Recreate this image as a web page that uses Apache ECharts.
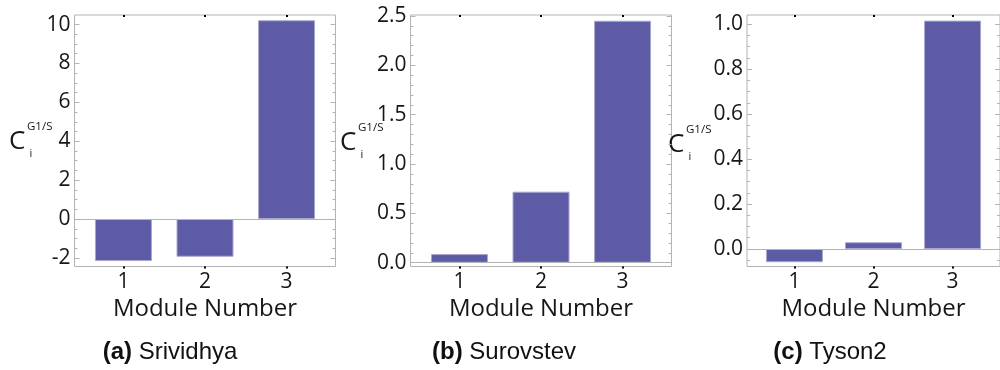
<!DOCTYPE html>
<html>
<head>
<meta charset="utf-8">
<script src="https://cdn.jsdelivr.net/npm/echarts@6/dist/echarts.min.js"></script>
<style>
  html, body { margin: 0; padding: 0; background: #ffffff; }
  #chart { width: 1000px; height: 370px; }
</style>
</head>
<body>
<div id="chart"></div>
<script>
// Module numbers on the x axis and their labels
const categories = [1, 2, 3];
const categoryLabels = ['1', '2', '3'];

// C_i^{G1/S} per module for each model
const valuesSrividhya = [-2.16, -1.94, 10.22];
const valuesSurovstev = [0.088, 0.72, 2.452];
const valuesTyson2 = [-0.059, 0.030, 1.016];

// Major y tick values of each panel
const ticksSrividhya = [-2, 0, 2, 4, 6, 8, 10];
const ticksSurovstev = [0.0, 0.5, 1.0, 1.5, 2.0, 2.5];
const ticksTyson2 = [0.0, 0.2, 0.4, 0.6, 0.8, 1.0];

// Panel captions: tag and model name
const captionTags = ['(a)', '(b)', '(c)'];
const captionNames = ['Srividhya', 'Surovstev', 'Tyson2'];

const xAxisTitle = 'Module Number';

// Per-panel layout: frame position, axis extents, minor tick subdivisions, label decimals
const panels = [
  { values: valuesSrividhya, ticks: ticksSrividhya, left: 74.5, yMin: -2.44, yMax: 10.49, minorDiv: 4, dec: 0,
    titleX: 9, titleY: 142, captionX: 170 },
  { values: valuesSurovstev, ticks: ticksSurovstev, left: 410.5, yMin: -0.038, yMax: 2.51, minorDiv: 5, dec: 1,
    titleX: 340, titleY: 143, captionX: 504 },
  { values: valuesTyson2, ticks: ticksTyson2, left: 747, yMin: -0.078, yMax: 1.041, minorDiv: 4, dec: 1,
    titleX: 668, titleY: 145, captionX: 830 }
];

const FRAME_TOP = 15;
const FRAME_BOTTOM = 266.5;
const FRAME_WIDTH = 261;
const FRAME_COLOR = '#b3b3b3';
const BAR_COLOR = '#5d5ba6';
const TEXT_COLOR = '#161616';
const SANS = '"Open Sans", "Noto Sans", sans-serif';
const HELV = '"Liberation Sans", Arial, sans-serif';

function minorTicks(ticks, div, lo, hi) {
  const step = (ticks[1] - ticks[0]) / div;
  const out = [];
  const start = ticks[0] - step * div;
  const end = ticks[ticks.length - 1] + step * div;
  for (let k = 0; start + k * step <= end + 1e-9; k++) {
    const v = +(start + k * step).toFixed(6);
    if (k % div === 0) continue;
    if (v >= lo && v <= hi) out.push(v);
  }
  return out;
}

const grids = [], xAxes = [], yAxes = [], series = [], graphics = [];

panels.forEach((p, i) => {
  grids.push({
    left: p.left, top: FRAME_TOP, width: FRAME_WIDTH, height: FRAME_BOTTOM - FRAME_TOP,
    show: true, borderColor: FRAME_COLOR, borderWidth: 1, backgroundColor: 'transparent'
  });

  // bottom axis: module numbers, ticks pointing out
  xAxes.push({
    type: 'value', gridIndex: i, position: 'bottom', min: 0.4, max: 3.6,
    axisLine: { show: false, onZero: false },
    splitLine: { show: false },
    axisTick: { show: true, inside: false, length: 2, customValues: categories,
      lineStyle: { color: '#000', width: 2 } },
    axisLabel: { show: true, customValues: categories, margin: 5,
      formatter: v => categoryLabels[categories.indexOf(Math.round(v))],
      color: TEXT_COLOR, fontFamily: SANS, fontSize: 21 },
    name: xAxisTitle, nameLocation: 'middle', nameGap: 29,
    nameTextStyle: { color: TEXT_COLOR, fontFamily: SANS, fontSize: 24 }
  });
  // top axis: small marks at module numbers
  xAxes.push({
    type: 'value', gridIndex: i, position: 'top', min: 0.4, max: 3.6,
    axisLine: { show: false, onZero: false }, splitLine: { show: false },
    axisTick: { show: true, inside: true, length: 2, customValues: categories,
      lineStyle: { color: '#000', width: 2 } },
    axisLabel: { show: false }
  });

  const minors = minorTicks(p.ticks, p.minorDiv, p.yMin, p.yMax);
  const yBase = { type: 'value', gridIndex: i, min: p.yMin, max: p.yMax,
    axisLine: { show: false, onZero: false }, splitLine: { show: false } };

  // left: major ticks with labels
  yAxes.push(Object.assign({}, yBase, {
    position: 'left',
    axisTick: { show: true, inside: true, length: 5, customValues: p.ticks,
      lineStyle: { color: FRAME_COLOR, width: 1 } },
    axisLabel: { show: true, customValues: p.ticks, margin: 4,
      formatter: v => v.toFixed(p.dec),
      color: TEXT_COLOR, fontFamily: SANS, fontSize: 21 }
  }));
  // left: minor ticks
  yAxes.push(Object.assign({}, yBase, {
    position: 'left',
    axisTick: { show: true, inside: true, length: 3, customValues: minors,
      lineStyle: { color: FRAME_COLOR, width: 1 } },
    axisLabel: { show: false }
  }));
  // right: major ticks
  yAxes.push(Object.assign({}, yBase, {
    position: 'right',
    axisTick: { show: true, inside: true, length: 5, customValues: p.ticks,
      lineStyle: { color: FRAME_COLOR, width: 1 } },
    axisLabel: { show: false }
  }));
  // right: minor ticks
  yAxes.push(Object.assign({}, yBase, {
    position: 'right',
    axisTick: { show: true, inside: true, length: 3, customValues: minors,
      lineStyle: { color: FRAME_COLOR, width: 1 } },
    axisLabel: { show: false }
  }));

  series.push({
    type: 'bar', xAxisIndex: i * 2, yAxisIndex: i * 4,
    data: categories.map((c, k) => [c, p.values[k]]),
    barWidth: 57,
    itemStyle: { color: BAR_COLOR, borderColor: '#a9a8cc', borderWidth: 1 },
    silent: true,
    markLine: {
      silent: true, symbol: 'none', label: { show: false },
      lineStyle: { color: FRAME_COLOR, width: 1, type: 'solid' },
      data: [{ yAxis: 0 }]
    }
  });

  // y axis title: C with superscript G1/S and subscript i
  graphics.push({
    type: 'group', x: p.titleX, y: p.titleY,
    children: [
      { type: 'text', x: 0, y: 0,
        style: { text: 'C', fontFamily: SANS, fontSize: 26, fill: TEXT_COLOR,
          verticalAlign: 'middle', align: 'left' } },
      { type: 'text', x: 18, y: -15,
        style: { text: 'G1/S', fontFamily: SANS, fontSize: 11.5, fill: TEXT_COLOR,
          verticalAlign: 'middle', align: 'left' } },
      { type: 'text', x: 20.5, y: 12,
        style: { text: 'i', fontFamily: SANS, fontSize: 11, fill: TEXT_COLOR,
          verticalAlign: 'middle', align: 'left' } }
    ]
  });

  // panel caption
  graphics.push({
    type: 'text', x: p.captionX, y: 352,
    style: {
      text: '{b|' + captionTags[i] + '} ' + captionNames[i],
      rich: { b: { fontFamily: HELV, fontWeight: 'bold', fontSize: 24, fill: '#111' } },
      fontFamily: HELV, fontSize: 24, fill: '#111',
      align: 'center', verticalAlign: 'middle'
    }
  });
});

const chart = echarts.init(document.getElementById('chart'), null, { renderer: 'canvas' });
chart.setOption({
  animation: false,
  backgroundColor: '#ffffff',
  grid: grids,
  xAxis: xAxes,
  yAxis: yAxes,
  series: series,
  graphic: graphics
});
</script>
</body>
</html>
